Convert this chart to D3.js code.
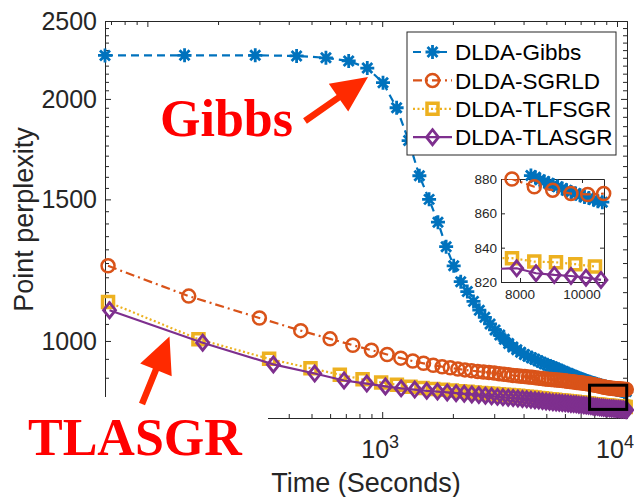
<!DOCTYPE html>
<meta charset="utf-8">
<script src="https://d3js.org/d3.v7.min.js"></script>
<style>
  body { margin: 0; background: #fff; }
  text { font-family: "Liberation Sans", Arial, sans-serif; }
</style>
<div id="chart"></div>
<script>

// ---- data ----
var seriesNames = ["DLDA-Gibbs", "DLDA-SGRLD", "DLDA-TLFSGR", "DLDA-TLASGR"];

var gibbsTime = [66, 144, 288, 432, 576, 720, 864, 1008, 1152, 1296, 1440, 1584, 1728, 1872, 2016, 2160,
  2304, 2448, 2592, 2736, 2880, 3024, 3168, 3312, 3456, 3600, 3744, 3888, 4032, 4176, 4320, 4464, 4608,
  4752, 4896, 5040, 5184, 5328, 5472, 5616, 5760, 5904, 6048, 6192, 6336, 6480, 6624, 6768, 6912, 7056,
  7200, 7344, 7488, 7632, 7776, 7920, 8064, 8208, 8352, 8496, 8640, 8784, 8928, 9072, 9216, 9360, 9504,
  9648, 9792, 9936, 10080, 10224, 10368, 10512, 10656, 10800, 10944];
var gibbsPerp = [2265, 2266, 2266, 2262, 2250, 2230, 2185, 2095, 1950, 1775, 1605, 1500, 1405, 1310, 1240, 1185,
  1152, 1120, 1092, 1070, 1050, 1032, 1017, 1005, 993, 983, 975, 968, 962, 957, 953, 949, 945,
  941, 937, 934, 931, 928, 925, 922, 919, 916, 913, 911, 908, 906, 903, 901, 899, 897,
  895, 893, 891, 890, 888, 886.5, 885, 883.5, 882, 881, 879.5, 878.5, 877.5, 876.5, 875.5, 874.5, 873.5,
  872.5, 871.5, 870.5, 869.5, 869, 868, 867, 866.5, 866, 865];

var sgrldTime = [68, 150, 300, 450, 600, 750, 900, 1050, 1200, 1350, 1500, 1650, 1800, 1950, 2100, 2250,
  2400, 2550, 2700, 2850, 3000, 3150, 3300, 3450, 3600, 3750, 3900, 4050, 4200, 4350, 4500, 4650, 4800,
  4950, 5100, 5250, 5400, 5550, 5700, 5850, 6000, 6150, 6300, 6450, 6600, 6750, 6900, 7050, 7200, 7350,
  7500, 7650, 7800, 7950, 8100, 8250, 8400, 8550, 8700, 8850, 9000, 9150, 9300, 9450, 9600, 9750, 9900,
  10050, 10200, 10350, 10500, 10650, 10800, 10950];
var sgrldPerp = [1240, 1137, 1068, 1030, 1006, 988, 974, 962, 952, 944, 938, 933, 929, 926, 923, 920.5,
  918.5, 916.5, 915, 913.5, 912, 910.5, 909, 907.5, 906, 905, 904, 903, 902, 901, 900, 899, 898,
  897, 896, 895.5, 895, 894, 893.5, 893, 892, 891, 890.5, 890, 889, 888, 887.5, 887, 886, 885,
  884.5, 884, 883, 882, 881, 880, 879, 878, 877, 876, 875, 874.5, 874, 873.5, 873, 872.5, 872,
  872, 871.5, 871.5, 871, 871, 870.5, 870.5];

var tlfsgrTime = [68, 165, 330, 495, 660, 825, 990, 1155, 1320, 1485, 1650, 1815, 1980, 2145, 2310, 2475,
  2640, 2805, 2970, 3135, 3300, 3465, 3630, 3795, 3960, 4125, 4290, 4455, 4620, 4785, 4950, 5115, 5280,
  5445, 5610, 5775, 5940, 6105, 6270, 6435, 6600, 6765, 6930, 7095, 7260, 7425, 7590, 7755, 7920, 8085,
  8250, 8415, 8580, 8745, 8910, 9075, 9240, 9405, 9570, 9735, 9900, 10065, 10230, 10395, 10560, 10725, 10890];
var tlfsgrPerp = [1118, 1005, 950, 925, 908, 896, 888, 882, 877, 874, 871.5, 869.5, 867.5, 866, 864.5, 863,
  861.5, 860.5, 859.5, 858.5, 857.5, 856.5, 855.5, 854.5, 853.5, 852.5, 851.5, 850.5, 849.5, 848.5, 847.5, 846.5, 845.5,
  845, 844, 843.5, 842.5, 842, 841, 840.5, 840, 839, 838.5, 838, 837, 836.5, 836, 835, 834.5, 834,
  833.5, 833, 832.5, 832, 831.5, 831, 830.5, 830, 830, 829.5, 829, 829, 828.5, 828.5, 828, 828, 827.5];

var tlasgrTime = [69, 172, 344, 516, 688, 860, 1032, 1204, 1376, 1548, 1720, 1892, 2064, 2236, 2408, 2580,
  2752, 2924, 3096, 3268, 3440, 3612, 3784, 3956, 4128, 4300, 4472, 4644, 4816, 4988, 5160, 5332, 5504,
  5676, 5848, 6020, 6192, 6364, 6536, 6708, 6880, 7052, 7224, 7396, 7568, 7740, 7912, 8084, 8256, 8428,
  8600, 8772, 8944, 9116, 9288, 9460, 9632, 9804, 9976, 10148, 10320, 10492, 10664, 10836, 11008];
var tlasgrPerp = [1092, 995, 935, 911, 893, 885, 878, 873, 870, 867, 865, 863, 861, 859.5, 858, 856.5,
  855, 853.5, 852, 851, 850, 849, 848, 847, 846, 845, 844, 843, 842, 841, 840, 839, 838.5,
  838, 837, 836.5, 836, 835, 834.5, 834, 833, 832.5, 832, 831, 830.5, 830, 829, 828.5, 828, 827,
  826.5, 826, 825.5, 825, 824.5, 824, 824, 823.5, 823, 823, 822.5, 822, 821.5, 821, 820.5];

// zoomed inset (its own points)
var insetSgrldTime  = [7000, 7742, 8461, 9055, 9645, 10184, 10700];
var insetSgrldPerp  = [880.5, 880, 875.5, 873.5, 871.5, 871, 871.5];
var insetTlfsgrTime = [7000, 7742, 8461, 9161, 9784, 10419];
var insetTlfsgrPerp = [834, 833.9, 831.9, 831.5, 830.4, 829];
var insetTlasgrTime = [7000, 7893, 8516, 9106, 9645, 10129, 10613];
var insetTlasgrPerp = [827.5, 828, 825.1, 824.1, 823.5, 822.5, 821.2];

// ticks
var xMajor = [100, 1000, 10000];
var xLabels = [1000, 10000];   // the 10^2 label sits under the TLASGR text box
var xMinor = [70, 80, 90, 200, 300, 400, 500, 600, 700, 800, 900, 2000, 3000, 4000, 5000, 6000, 7000, 8000, 9000];
var yMajor = [1000, 1500, 2000, 2500];
var yMinor = [850, 900, 950, 1050, 1100, 1150, 1200, 1250, 1300, 1350, 1400, 1450, 1550, 1600, 1650, 1700,
  1750, 1800, 1850, 1900, 1950, 2050, 2100, 2150, 2200, 2250, 2300, 2350, 2400, 2450];
var insetXTicks = [8000, 10000];
var insetYTicks = [820, 840, 860, 880];
var zoomBoxTime = [7640, 11000];
var zoomBoxPerp = [822, 881];

// ---- layout ----
var W = 634, H = 497;
var margin = {top: 21, right: 7, bottom: 79, left: 105},
    width = W - margin.left - margin.right,
    height = H - margin.top - margin.bottom;
var axisColor = "#262626";

var svg = d3.select("#chart")
  .append("svg")
    .attr("width", W)
    .attr("height", H);

var g = svg.append("g")
    .attr("transform", "translate(" + margin.left + "," + margin.top + ")");

var x = d3.scaleLog().domain([66, 11030]).range([0, width]);
var y = d3.scaleLog().domain([802, 2500]).range([height, 0]);

// axes (ticks point inward, box on)
function styleAxis(sel) {
  sel.selectAll("path").attr("stroke", axisColor);
  sel.selectAll("line").attr("stroke", axisColor);
}
g.append("g").attr("transform", "translate(0," + height + ")")
  .call(d3.axisBottom(x).tickValues(xMinor).tickSize(-4).tickSizeOuter(0).tickFormat("")).call(styleAxis);
g.append("g").attr("transform", "translate(0," + height + ")")
  .call(d3.axisBottom(x).tickValues(xMajor).tickSize(-6).tickSizeOuter(0).tickFormat("")).call(styleAxis);
g.append("g")
  .call(d3.axisTop(x).tickValues(xMinor).tickSize(-4).tickSizeOuter(0).tickFormat("")).call(styleAxis);
g.append("g")
  .call(d3.axisTop(x).tickValues(xMajor).tickSize(-6).tickSizeOuter(0).tickFormat("")).call(styleAxis);
g.append("g")
  .call(d3.axisLeft(y).tickValues(yMinor).tickSize(-4).tickSizeOuter(0).tickFormat("")).call(styleAxis);
g.append("g")
  .call(d3.axisLeft(y).tickValues(yMajor).tickSize(-6).tickSizeOuter(0).tickFormat("")).call(styleAxis);
g.append("g").attr("transform", "translate(" + width + ",0)")
  .call(d3.axisRight(y).tickValues(yMinor).tickSize(-4).tickSizeOuter(0).tickFormat("")).call(styleAxis);
g.append("g").attr("transform", "translate(" + width + ",0)")
  .call(d3.axisRight(y).tickValues(yMajor).tickSize(-6).tickSizeOuter(0).tickFormat("")).call(styleAxis);

// tick labels
g.append("g").selectAll("text")
  .data(yMajor)
  .enter().append("text")
    .attr("x", -8)
    .attr("y", function(d) { return y(d); })
    .attr("dy", "0.36em")
    .attr("text-anchor", "end")
    .style("font-size", "25px")
    .style("fill", axisColor)
    .text(function(d) { return d; });

var xl = g.append("g").selectAll("text")
  .data(xLabels)
  .enter().append("text")
    .attr("x", function(d) { return x(d) - 2; })
    .attr("y", height + 40)
    .attr("text-anchor", "middle")
    .style("font-size", "25px")
    .style("fill", axisColor);
xl.append("tspan").text("10");
xl.append("tspan")
    .attr("dy", -10)
    .style("font-size", "18px")
    .text(function(d) { return Math.round(Math.log10(d)); });

// axis titles
svg.append("text")
    .attr("x", margin.left + width / 2)
    .attr("y", 492)
    .attr("text-anchor", "middle")
    .style("font-size", "27px")
    .style("fill", axisColor)
    .text("Time (Seconds)");
svg.append("text")
    .attr("transform", "translate(33," + (margin.top + height / 2) + ") rotate(-90)")
    .attr("text-anchor", "middle")
    .style("font-size", "27px")
    .style("fill", axisColor)
    .text("Point perplexity");

// ---- series ----
var markers = {
  asterisk: "M-7,0H7M0,-7V7M-5,-5L5,5M-5,5L5,-5",
  circle: "M6.5,0A6.5,6.5 0 1,1 -6.5,0A6.5,6.5 0 1,1 6.5,0Z",
  square: "M-5.5,-5.5H5.5V5.5H-5.5Z",
  diamond: "M0,-7.5L6,0L0,7.5L-6,0Z"
};

function pairs(t, p) {
  return t.map(function(d, i) { return {t: d, p: p[i]}; })
    .filter(function(d) { return d.p !== undefined; });
}

var series = [
  {name: seriesNames[0], data: pairs(gibbsTime, gibbsPerp), color: "#0072BD", dash: "8,5", marker: "asterisk", mw: 2.8},
  {name: seriesNames[1], data: pairs(sgrldTime, sgrldPerp), color: "#D95319", dash: "9,4,2,4", marker: "circle", mw: 2.5},
  {name: seriesNames[2], data: pairs(tlfsgrTime, tlfsgrPerp), color: "#EDB120", dash: "2,2.5", marker: "square", mw: 3.5},
  {name: seriesNames[3], data: pairs(tlasgrTime, tlasgrPerp), color: "#7E2F8E", dash: null, marker: "diamond", mw: 2.8}
];
var insetData = [
  series[0].data,
  pairs(insetSgrldTime, insetSgrldPerp),
  pairs(insetTlfsgrTime, insetTlfsgrPerp),
  pairs(insetTlasgrTime, insetTlasgrPerp)
];

var line = d3.line()
    .x(function(d) { return x(d.t); })
    .y(function(d) { return y(d.p); });

series.forEach(function(s) {
  var sg = g.append("g");
  sg.append("path")
      .datum(s.data)
      .attr("d", line)
      .attr("fill", "none")
      .attr("stroke", s.color)
      .attr("stroke-width", 2.2)
      .attr("stroke-dasharray", s.dash);
  sg.selectAll("path.mk")
    .data(s.data)
    .enter().append("path")
      .attr("class", "mk")
      .attr("transform", function(d) { return "translate(" + x(d.t) + "," + y(d.p) + ")"; })
      .attr("d", markers[s.marker])
      .attr("fill", "none")
      .attr("stroke", s.color)
      .attr("stroke-width", s.mw);
});

// zoom box on the main axes
g.append("rect")
    .attr("x", x(zoomBoxTime[0]))
    .attr("y", y(zoomBoxPerp[1]))
    .attr("width", x(zoomBoxTime[1]) - x(zoomBoxTime[0]))
    .attr("height", y(zoomBoxPerp[0]) - y(zoomBoxPerp[1]))
    .attr("fill", "none")
    .attr("stroke", "#000")
    .attr("stroke-width", 3);

// ---- inset ----
var inset = svg.append("g").attr("transform", "translate(501,179)");
var iw = 103, ih = 103;
var ix = d3.scaleLinear().domain([7387, 10710]).range([0, iw]);
var iy = d3.scaleLinear().domain([820, 880]).range([ih, 0]);

inset.append("rect").attr("width", iw).attr("height", ih).attr("fill", "#fff");
inset.append("clipPath").attr("id", "insetClip")
  .append("rect").attr("width", iw).attr("height", ih);

inset.append("g").attr("transform", "translate(0," + ih + ")")
  .call(d3.axisBottom(ix).tickValues(insetXTicks).tickSize(-4).tickSizeOuter(0).tickFormat("")).call(styleAxis);
inset.append("g")
  .call(d3.axisTop(ix).tickValues(insetXTicks).tickSize(-4).tickSizeOuter(0).tickFormat("")).call(styleAxis);
inset.append("g")
  .call(d3.axisLeft(iy).tickValues(insetYTicks).tickSize(-4).tickSizeOuter(0).tickFormat("")).call(styleAxis);
inset.append("g").attr("transform", "translate(" + iw + ",0)")
  .call(d3.axisRight(iy).tickValues(insetYTicks).tickSize(-4).tickSizeOuter(0).tickFormat("")).call(styleAxis);

inset.append("g").selectAll("text")
  .data(insetYTicks)
  .enter().append("text")
    .attr("x", -4)
    .attr("y", function(d) { return iy(d); })
    .attr("dy", "0.36em")
    .attr("text-anchor", "end")
    .style("font-size", "13.5px")
    .style("fill", axisColor)
    .text(function(d) { return d; });
inset.append("g").selectAll("text")
  .data(insetXTicks)
  .enter().append("text")
    .attr("x", function(d) { return ix(d); })
    .attr("y", ih + 17)
    .attr("text-anchor", "middle")
    .style("font-size", "13.5px")
    .style("fill", axisColor)
    .text(function(d) { return d; });

var iline = d3.line()
    .x(function(d) { return ix(d.t); })
    .y(function(d) { return iy(d.p); });

series.forEach(function(s, k) {
  var data = insetData[k];
  var sg = inset.append("g");
  sg.append("path")
      .datum(data)
      .attr("clip-path", "url(#insetClip)")
      .attr("d", iline)
      .attr("fill", "none")
      .attr("stroke", s.color)
      .attr("stroke-width", 2.2)
      .attr("stroke-dasharray", s.dash);
  sg.selectAll("path.mk")
    .data(data.filter(function(d) {
      return d.t >= 7387 && d.t <= 10710 && d.p >= 820 && d.p <= 882;
    }))
    .enter().append("path")
      .attr("class", "mk")
      .attr("transform", function(d) { return "translate(" + ix(d.t) + "," + iy(d.p) + ")"; })
      .attr("d", markers[s.marker])
      .attr("fill", "none")
      .attr("stroke", s.color)
      .attr("stroke-width", s.mw);
});

// ---- legend ----
var legend = svg.append("g").attr("transform", "translate(407,32)");
legend.append("rect")
    .attr("width", 209)
    .attr("height", 123)
    .attr("fill", "#fff")
    .attr("stroke", axisColor)
    .attr("stroke-width", 1);
var entry = legend.selectAll("g.entry")
  .data(series)
  .enter().append("g")
    .attr("class", "entry")
    .attr("transform", function(d, i) { return "translate(0," + (20 + i * 28.4) + ")"; });
entry.append("line")
    .attr("x1", 6).attr("x2", 45)
    .attr("stroke", function(d) { return d.color; })
    .attr("stroke-width", 2.2)
    .attr("stroke-dasharray", function(d) { return d.dash; });
entry.append("path")
    .attr("transform", "translate(25.5,0)")
    .attr("d", function(d) { return markers[d.marker]; })
    .attr("fill", "none")
    .attr("stroke", function(d) { return d.color; })
    .attr("stroke-width", function(d) { return d.mw; });
entry.append("text")
    .attr("x", 48)
    .attr("dy", "0.36em")
    .style("font-size", "22.5px")
    .style("fill", "#000")
    .text(function(d) { return d.name; });

// ---- annotations ----
function arrow(tail, tip, shaft, headLen, headW) {
  var dx = tip[0] - tail[0], dy = tip[1] - tail[1];
  var L = Math.sqrt(dx * dx + dy * dy), ux = dx / L, uy = dy / L, nx = -uy, ny = ux;
  var bx = tip[0] - ux * headLen, by = tip[1] - uy * headLen;
  var p = [
    [tail[0] + nx * shaft / 2, tail[1] + ny * shaft / 2],
    [bx + nx * shaft / 2, by + ny * shaft / 2],
    [bx + nx * headW / 2, by + ny * headW / 2],
    tip,
    [bx - nx * headW / 2, by - ny * headW / 2],
    [bx - nx * shaft / 2, by - ny * shaft / 2],
    [tail[0] - nx * shaft / 2, tail[1] - ny * shaft / 2]
  ];
  return "M" + p.map(function(q) { return q[0].toFixed(1) + "," + q[1].toFixed(1); }).join("L") + "Z";
}

// white text box behind the TLASGR label hides the lower-left corner of the axes
svg.append("rect")
    .attr("x", 10).attr("y", 397)
    .attr("width", 258).attr("height", 70)
    .attr("fill", "#fff");

svg.append("path").attr("d", arrow([305, 121], [368, 77], 6.5, 36, 34)).attr("fill", "#ff2a00");
svg.append("path").attr("d", arrow([142, 404], [169.5, 336.5], 6.5, 36, 34)).attr("fill", "#ff2a00");

svg.append("text")
    .attr("x", 160).attr("y", 136)
    .style("font-family", "'Liberation Serif', 'Times New Roman', serif")
    .style("font-weight", "bold")
    .style("font-size", "52px")
    .style("fill", "#ff0000")
    .text("Gibbs");
svg.append("text")
    .attr("x", 28).attr("y", 455)
    .style("font-family", "'Liberation Serif', 'Times New Roman', serif")
    .style("font-weight", "bold")
    .style("font-size", "52px")
    .style("fill", "#ff0000")
    .text("TLASGR");

</script>
